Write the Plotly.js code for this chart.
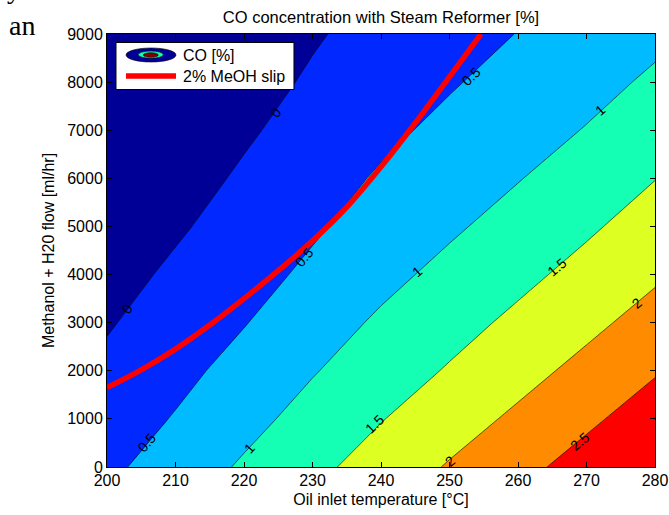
<!DOCTYPE html>
<html>
<head>
<meta charset="utf-8">
<script src="https://cdn.plot.ly/plotly-3.0.1.min.js"></script>
<style>
  html, body { margin: 0; padding: 0; background: #ffffff; }
  #chart { width: 669px; height: 515px; }
</style>
</head>
<body>
<div id="chart"></div>
<script>
// ---- data ----
// Oil inlet temperature grid [°C]
const temperature = [200, 210, 220, 230, 240, 250, 260, 270, 280];
// Methanol + H2O flow grid [ml/hr]
const flow = [0, 1000, 2000, 3000, 4000, 5000, 6000, 7000, 8000, 9000];

// CO concentration [%] at each temperature, one row per flow value
const co_0    = [0.40, 0.73, 1.06, 1.38, 1.71, 2.04, 2.36, 2.69, 3.02];
const co_1000 = [0.25, 0.53, 0.85, 1.17, 1.48, 1.78, 2.09, 2.41, 2.74];
const co_2000 = [0.10, 0.37, 0.66, 0.97, 1.26, 1.54, 1.83, 2.14, 2.46];
const co_3000 = [-0.04, 0.22, 0.48, 0.78, 1.07, 1.33, 1.60, 1.88, 2.19];
const co_4000 = [-0.17, 0.08, 0.33, 0.59, 0.87, 1.13, 1.38, 1.65, 1.93];
const co_5000 = [-0.30, -0.06, 0.19, 0.44, 0.69, 0.93, 1.18, 1.43, 1.71];
const co_6000 = [-0.43, -0.18, 0.06, 0.31, 0.55, 0.76, 0.98, 1.23, 1.49];
const co_7000 = [-0.52, -0.29, -0.06, 0.17, 0.40, 0.61, 0.82, 1.02, 1.27];
const co_8000 = [-0.56, -0.36, -0.15, 0.05, 0.26, 0.46, 0.66, 0.86, 1.07];
const co_9000 = [-0.59, -0.41, -0.23, -0.04, 0.14, 0.33, 0.51, 0.71, 0.90];

// 2% MeOH slip curve
const slipTemp = [200, 205, 210, 215, 220, 225, 230, 235, 240, 245, 250, 254.6];
const slipFlow = [1650, 2020, 2450, 2950, 3500, 4080, 4700, 5400, 6240, 7150, 8110, 9000];

// inline contour labels
const labelText = ['0', '0', '0.5', '0.5', '0.5', '1', '1', '1', '1.5', '1.5', '2', '2', '2.5'];
const labelTemp = [202.9, 224.6, 205.9, 228.8, 253.2, 220.8, 245.2, 272.0, 239.1, 265.7, 250.1, 277.4, 269.1];
const labelFlow = [3290, 7360, 510, 4370, 8130, 400, 4060, 7430, 890, 4160, 130, 3400, 540];
const labelAngle = [-53, -54, -50, -50, -44, -48, -41, -41, -44, -41, -40, -40, -40];

// contour levels
const levelStart = 0, levelEnd = 2.5, levelStep = 0.5;

// ---- styling ----
const FONT = 'Liberation Sans, Arial, Helvetica, sans-serif';
const bandColors = ['#000096', '#0028FF', '#00BBFF', '#14FFB4', '#DDFF22', '#FF8C00', '#FF0000'];
const colorscale = [];
bandColors.forEach((c, i) => {
  const f = i / (bandColors.length - 1);
  colorscale.push([f, c]);
});

const zMatrix = [co_0, co_1000, co_2000, co_3000, co_4000, co_5000, co_6000, co_7000, co_8000, co_9000];

const contourTrace = {
  type: 'contour',
  x: temperature,
  y: flow,
  z: zMatrix,
  autocontour: false,
  contours: { start: levelStart, end: levelEnd, size: levelStep, coloring: 'fill', showlines: true },
  line: { color: '#000000', width: 0.6, smoothing: 0 },
  colorscale: colorscale,
  showscale: false,
  hoverinfo: 'skip',
  showlegend: false
};

const slipTrace = {
  type: 'scatter',
  mode: 'lines',
  x: slipTemp,
  y: slipFlow,
  line: { color: '#FF0000', width: 5.5, shape: 'spline' },
  showlegend: false,
  hoverinfo: 'skip'
};

const annotations = labelText.map((t, i) => ({
  x: labelTemp[i], y: labelFlow[i], xref: 'x', yref: 'y',
  text: t, showarrow: false, textangle: labelAngle[i],
  font: { family: FONT, size: 14, color: '#000000' }
}));

// legend text
annotations.push({ xref: 'paper', yref: 'paper', x: 0.135, y: 0.9492, xanchor: 'left', yanchor: 'middle',
  text: 'CO [%]', showarrow: false, font: { family: FONT, size: 16, color: '#000000' } });
annotations.push({ xref: 'paper', yref: 'paper', x: 0.135, y: 0.903, xanchor: 'left', yanchor: 'middle',
  text: '2% MeOH slip', showarrow: false, font: { family: FONT, size: 16, color: '#000000' } });

// stray page text at top-left
annotations.push({ xref: 'paper', yref: 'paper', x: -0.183, y: 1.0186, xanchor: 'left', yanchor: 'middle',
  text: 'an', showarrow: false, font: { family: 'Liberation Serif, Times New Roman, serif', size: 28, color: '#000000' } });
annotations.push({ xref: 'paper', yref: 'paper', x: -0.186, y: 1.104, xanchor: 'left', yanchor: 'middle',
  text: 'y', showarrow: false, font: { family: 'Liberation Serif, Times New Roman, serif', size: 28, color: '#000000' } });

const shapes = [
  { type: 'rect', xref: 'paper', yref: 'paper', x0: 0.0164, x1: 0.3412, y0: 0.8718, y1: 0.9804,
    fillcolor: '#FFFFFF', line: { color: '#000000', width: 1 }, layer: 'above' },
  { type: 'circle', xref: 'paper', yref: 'paper', x0: 0.0347, x1: 0.1259, y0: 0.9353, y1: 0.9677,
    fillcolor: '#000096', line: { color: '#000000', width: 0.6 }, layer: 'above' },
  { type: 'circle', xref: 'paper', yref: 'paper', x0: 0.0571, x1: 0.1026, y0: 0.9438, y1: 0.9607,
    fillcolor: '#14FFB4', line: { color: '#000000', width: 0.6 }, layer: 'above' },
  { type: 'circle', xref: 'paper', yref: 'paper', x0: 0.0662, x1: 0.0936, y0: 0.9462, y1: 0.9568,
    fillcolor: '#800000', line: { color: '#000000', width: 0.6 }, layer: 'above' },
  { type: 'line', xref: 'paper', yref: 'paper', x0: 0.0347, x1: 0.1259, y0: 0.903, y1: 0.903,
    line: { color: '#FF0000', width: 5.5 }, layer: 'above' }
];

const axisCommon = {
  showline: true, linecolor: '#000000', linewidth: 1, mirror: 'ticks',
  ticks: 'inside', ticklen: 5, tickwidth: 1, tickcolor: '#000000',
  showgrid: false, zeroline: false,
  tickfont: { family: FONT, size: 16, color: '#000000' },
  exponentformat: 'none'
};

const layout = {
  width: 669, height: 515,
  margin: { l: 107, r: 14, t: 34, b: 48, pad: 0 },
  paper_bgcolor: '#FFFFFF', plot_bgcolor: '#FFFFFF',
  showlegend: false,
  title: { text: 'CO concentration with Steam Reformer [%]', font: { family: FONT, size: 16.5, color: '#000000' },
    xref: 'paper', x: 0.5, xanchor: 'center', yref: 'container', y: 0.967, yanchor: 'middle' },
  xaxis: Object.assign({}, axisCommon, {
    range: [200, 280], dtick: 10, tick0: 200, ticklabelstandoff: -1,
    title: { text: 'Oil inlet temperature [°C]', font: { family: FONT, size: 16, color: '#000000' }, standoff: 5 }
  }),
  yaxis: Object.assign({}, axisCommon, {
    range: [0, 9000], dtick: 1000, tick0: 0,
    title: { text: 'Methanol + H20 flow [ml/hr]', font: { family: FONT, size: 16, color: '#000000' }, standoff: 8 }
  }),
  annotations: annotations,
  shapes: shapes
};

Plotly.newPlot('chart', [contourTrace, slipTrace], layout, { displayModeBar: false, staticPlot: true });
</script>
</body>
</html>
